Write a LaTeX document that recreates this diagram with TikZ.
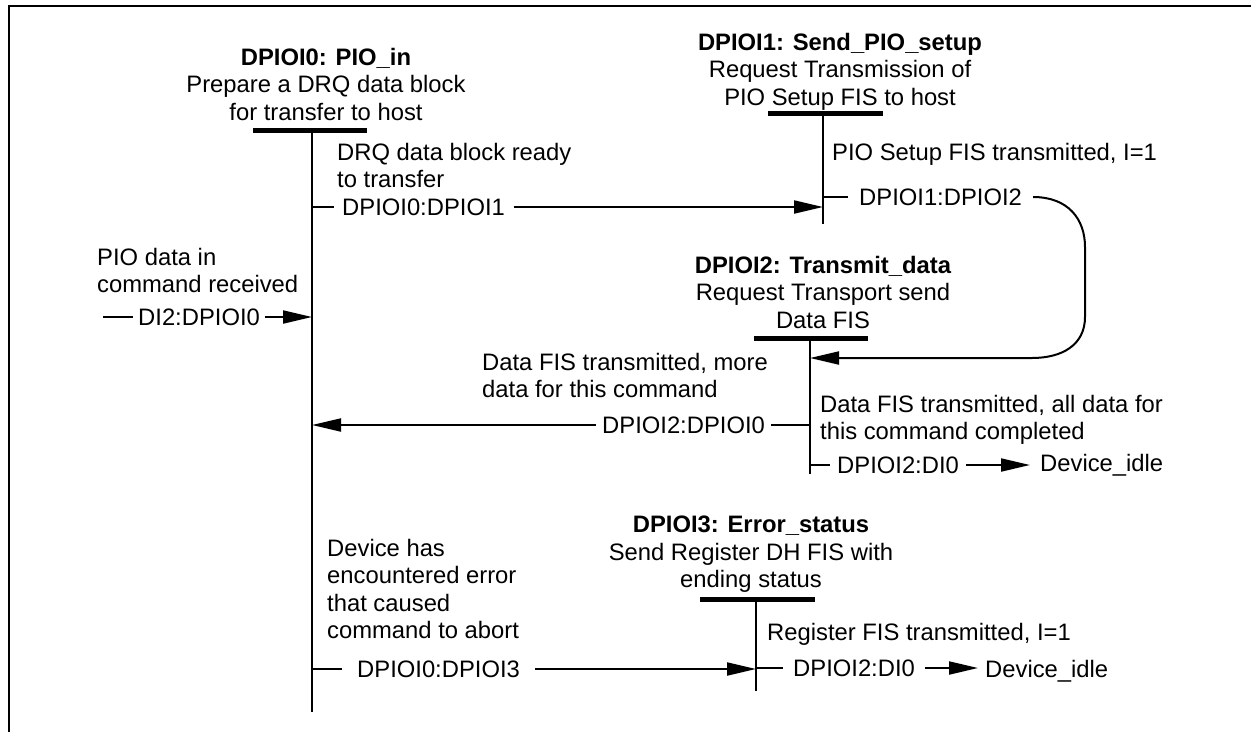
\documentclass[tikz,border=0pt]{standalone}
\usepackage{fontspec}
\setmainfont{Liberation Sans}
\usetikzlibrary{arrows.meta}
\begin{document}
\begin{tikzpicture}[x=1pt,y=-1pt,
  txt/.style={font=\fontsize{23.8}{27.3}\selectfont, inner sep=0pt},
  ctr/.style={txt, align=center, anchor=north},
  lft/.style={txt, align=left, anchor=north west},
  code/.style={txt, anchor=west},
  bar/.style={line width=5pt},
  life/.style={line width=2.4pt},
  conn/.style={line width=2pt},
  arr/.style={conn, -{Triangle[length=29pt,width=13pt]}},
  frame/.style={line width=2.5pt}
]
\useasboundingbox (0,0) rectangle (1251,732);
\coordinate (fr1) at (1251,6);
\coordinate (fr2) at (9,6);
\coordinate (fr3) at (9,732);
\draw[frame] (fr1) -- (fr2) -- (fr3);

% ---- states ----
\node[ctr] (t0) at (326,48) {\textbf{DPIOI0: PIO\_in}\\Prepare a DRQ data block\\for transfer to host};
\node[ctr] (t1) at (840,33) {\textbf{DPIOI1: Send\_PIO\_setup}\\Request Transmission of\\PIO Setup FIS to host};
\node[ctr] (t2) at (823,256) {\textbf{DPIOI2: Transmit\_data}\\Request Transport send\\Data FIS};
\node[ctr] (t3) at (751,516) {\textbf{DPIOI3: Error\_status}\\Send Register DH FIS with\\ending status};

\coordinate (b0l) at (253,130); \coordinate (b0r) at (367,130);
\coordinate (v0t) at (312,130); \coordinate (v0b) at (312,712);
\coordinate (b1l) at (768,113); \coordinate (b1r) at (883,113);
\coordinate (v1t) at (823,113); \coordinate (v1b) at (823,224);
\coordinate (b2l) at (754,338); \coordinate (b2r) at (868,338);
\coordinate (v2t) at (810,338); \coordinate (v2b) at (810,474);
\coordinate (b3l) at (700,599); \coordinate (b3r) at (815,599);
\coordinate (v3t) at (756,599); \coordinate (v3b) at (756,691);

\draw[bar] (b0l) -- (b0r);
\draw[bar] (b1l) -- (b1r);
\draw[bar] (b2l) -- (b2r);
\draw[bar] (b3l) -- (b3r);
\draw[life] (v0t) -- (v0b);
\draw[life] (v1t) -- (v1b);
\draw[life] (v2t) -- (v2b);
\draw[life] (v3t) -- (v3b);

% ---- transition conditions ----
\node[lft] (l01) at (337,143) {DRQ data block ready\\to transfer};
\node[lft] (l12) at (832,143) {PIO Setup FIS transmitted, I=1};
\node[lft] (ldi) at (97,248) {PIO data in\\command received};
\node[lft] (l20) at (482,353) {Data FIS transmitted, more\\data for this command};
\node[lft] (l2i) at (820,395) {Data FIS transmitted, all data for\\this command completed};
\node[lft] (l03) at (327,539) {Device has\\encountered error\\that caused\\command to abort};
\node[lft] (l3i) at (767,623) {Register FIS transmitted, I=1};

% ---- transition codes ----
\node[code, inner xsep=8.5pt] (c01) at (333.5,207) {DPIOI0:DPIOI1};
\draw[conn] (c01.west -| v0t) -- (c01.west);
\draw[arr] (c01.east) -- (c01.east -| v1t);

\node[code, inner xsep=11pt] (c12) at (848,197) {DPIOI1:DPIOI2};
\coordinate (k1) at (1085,247);
\coordinate (k2) at (1085,317);
\coordinate (k3) at (1032,358);
\draw[conn] (c12.west -| v1t) -- (c12.west);
\draw[arr] (c12.east) .. controls +(35,0) and +(0,-28) .. (k1) -- (k2)
  .. controls +(0,28) and +(30,0) .. (k3) -- (k3 -| v2t);

\node[code, inner xsep=5pt] (cdi) at (133,317) {DI2:DPIOI0};
\coordinate (din) at (103,317);
\draw[conn] (din) -- (cdi.west);
\draw[arr] (cdi.east) -- (cdi.east -| v0t);

\node[code, inner xsep=6pt] (c20) at (596,425) {DPIOI2:DPIOI0};
\draw[conn] (c20.east) -- (c20.east -| v2t);
\draw[arr] (c20.west) -- (c20.west -| v0t);

\node[code, inner xsep=7pt] (c2i) at (830,465) {DPIOI2:DI0};
\node[txt, inner xsep=10pt, anchor=base west] (idle1) at (1030,471.5) {Device\_idle};
\draw[conn] (c2i.west -| v2t) -- (c2i.west);
\draw[arr] (c2i.east) -- (c2i.east -| idle1.west);

\node[code, inner xsep=15pt] (c03) at (342,669) {DPIOI0:DPIOI3};
\draw[conn] (c03.west -| v0t) -- (c03.west);
\draw[arr] (c03.east) -- (c03.east -| v3t);

\node[code, inner xsep=10pt] (c3i) at (783,668) {DPIOI2:DI0};
\node[txt, inner xsep=7pt, anchor=base west] (idle2) at (978,677.5) {Device\_idle};
\draw[conn] (c3i.west -| v3t) -- (c3i.west);
\draw[arr] (c3i.east) -- (c3i.east -| idle2.west);
\end{tikzpicture}
\end{document}
